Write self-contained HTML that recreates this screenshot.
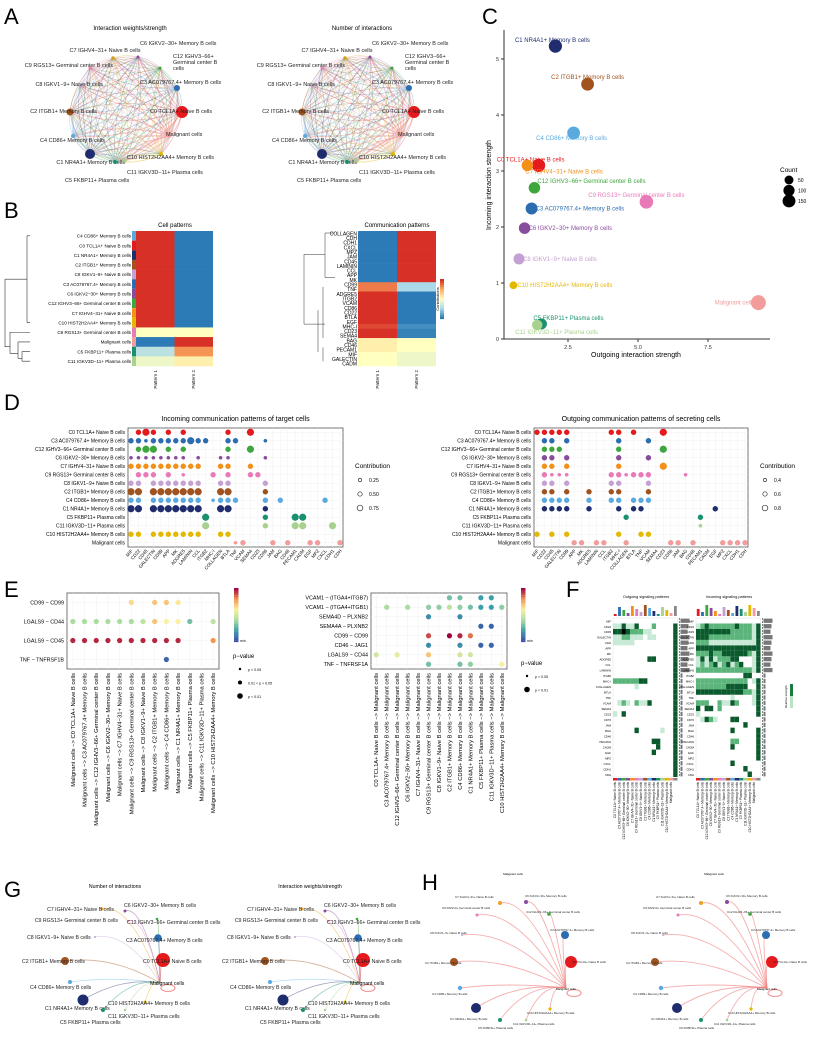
<!DOCTYPE html>
<html><head><meta charset="utf-8">
<style>
html,body{margin:0;padding:0;background:#fff;}
svg{display:block;font-family:"Liberation Sans",Arial,sans-serif;}
</style></head>
<body>
<svg id="fig" width="815" height="1040" viewBox="0 0 815 1040" xmlns="http://www.w3.org/2000/svg">
<rect width="815" height="1040" fill="#fff"/>
<g font-size="22" fill="#000">
<text x="4" y="24">A</text>
<text x="4" y="218">B</text>
<text x="482" y="24">C</text>
<text x="4" y="410">D</text>
<text x="4" y="597">E</text>
<text x="566" y="597">F</text>
<text x="4" y="897">G</text>
<text x="422" y="890">H</text>
</g>
<g id="gA"></g>
<g id="gB"></g>
<g id="gC"></g>
<g id="gD"></g>
<g id="gE"></g>
<g id="gF"></g>
<g id="gG"></g>
<g id="gH"></g>
</svg>
<script>
const NS="http://www.w3.org/2000/svg";
function mk(parent,tag,attrs,txt){const e=document.createElementNS(NS,tag);for(const k in attrs)e.setAttribute(k,attrs[k]);if(txt!==undefined)e.textContent=txt;parent.appendChild(e);return e;}

// ---------- Panel C data ----------
const cellNames=["C1 NR4A1+ Memory B cells","C2 ITGB1+ Memory B cells","C4 CD86+ Memory B cells","C0 TCL1A+ Naive B cells","C7 IGHV4−31+ Naive B cells","C12 IGHV3−66+ Germinal center B cells","C9 RGS13+ Germinal center B cells","C3 AC079767.4+ Memory B cells","C6 IGKV2−30+ Memory B cells","C8 IGKV1−9+ Naive B cells","C10 HIST2H2AA4+ Memory B cells","Malignant cells","C5 FKBP11+ Plasma cells","C11 IGKV3D−11+ Plasma cells"];
const outgoing=[2.05,3.2,2.7,1.45,1.05,1.3,5.3,1.2,0.95,0.75,0.55,9.3,1.55,1.4];
const incoming=[5.23,4.55,3.68,3.1,3.1,2.7,2.45,2.33,1.98,1.43,0.96,0.65,0.27,0.25];
const counts=[120,110,110,120,80,80,130,90,80,70,20,170,70,60];
const cellColors=["#1f2d6e","#a0521f","#5aaae0","#e41a1c","#f39019","#3da63d","#e87ab8","#2c6db2","#874c9c","#c4a1d2","#e3b800","#f29c9c","#1a9070","#a9d18e"];
const xTicksC=[2.5,5.0,7.5];
const yTicksC=[0,1,2,3,4,5];
{
 const g=document.getElementById('gC');
 const X=v=>498+28*v, Y=v=>339-56*v, R=c=>2+Math.sqrt(c)*0.42;
 mk(g,'line',{x1:504,y1:30,x2:504,y2:339,stroke:'#333','stroke-width':1,});
 mk(g,'line',{x1:504,y1:339,x2:770,y2:339,stroke:'#333','stroke-width':1,});
 xTicksC.forEach(t=>{mk(g,'line',{x1:X(t),y1:339,x2:X(t),y2:342,stroke:'#333'});const e=mk(g,'text',{x:X(t),y:349,'font-size':5.5,'text-anchor':'middle',fill:'#333'},t.toFixed(1));});
 yTicksC.forEach(t=>{mk(g,'line',{x1:501,y1:Y(t),x2:504,y2:Y(t),stroke:'#333'});const e=mk(g,'text',{x:499,y:Y(t)+2,'font-size':5.5,'text-anchor':'end',fill:'#333'},t);});
 mk(g,'text',{x:636,y:357,'font-size':7,'text-anchor':'middle',},'Outgoing interaction strength');
 mk(g,'text',{x:0,y:0,'font-size':7,'text-anchor':'middle',transform:'translate(491,185) rotate(-90)',},'Incoming interaction strength');
 const lab=[[-3,-4,'middle'],[0,-5,'middle'],[-2,7,'middle'],[-8,-4,'middle'],[-2,8,'start'],[3,-5,'start'],[-10,-5,'middle'],[4,2,'start'],[4,2,'start'],[4,2,'start'],[4,2,'start'],[-4,2,'end'],[-8,-4,'start'],[-22,9,'start']];
 outgoing.forEach((v,i)=>{
  const c=mk(g,'circle',{cx:X(v),cy:Y(incoming[i]),r:R(counts[i]),fill:cellColors[i]});
  
  const l=lab[i];
  const t=mk(g,'text',{x:X(v)+l[0],y:Y(incoming[i])+l[1],'font-size':6,'text-anchor':l[2],fill:cellColors[i]},cellNames[i]);
  
 });
 mk(g,'text',{x:780,y:172,'font-size':6.5,},'Count');
 [50,100,150].forEach((c,i)=>{const yy=180+i*10.5;mk(g,'circle',{cx:789,cy:yy,r:R(c)*0.9,fill:'#000',});mk(g,'text',{x:798,y:yy+2,'font-size':5,},c);});
}

// ---------- Panel A networks ----------
const netNodes=[
 [-12,-48,"C7 IGHV4−31+ Naive B cells",-8,-6,'middle',"#d4a017",1.8],
 [13,-49,"C6 IGKV2−30+ Memory B cells",2,-12,'start',"#874c9c",1.5],
 [-35,-38,"C9 RGS13+ Germinal center B cells",23,-1,'end',"#e87ab8",1.5],
 [35,-38,"C12 IGHV3−66+",13,-10,'start',"#3da63d",1.5],
 [-45,-20,"C8 IGKV1−9+ Naive B cells",23,0,'end',"#c4a1d2",1.5],
 [52,-18,"C3 AC079767.4+ Memory B cells",-37,-4,'start',"#2c6db2",3],
 [-55,6,"C2 ITGB1+ Memory B cells",27,1,'end',"#a0521f",3.5],
 [57,6,"C0 TCL1A+ Naive B cells",-32,1,'start',"#e41a1c",6],
 [-52,30,"C4 CD86+ Memory B cells",32,6,'end',"#5aaae0",2],
 [45,30,"Malignant cells",-4,0,'start',"#f29c9c",1.5],
 [36,48,"C10 HIST2H2AA4+ Memory B cells",-34,5,'start',"#e3b800",2],
 [-35,48,"C1 NR4A1+ Memory B cells",35,10,'end',"#1f2d6e",5],
 [0,55,"C11 IGKV3D−11+ Plasma cells",2,13,'start',"#a9d18e",1.5],
 [-10,56,"C5 FKBP11+ Plasma cells",-50,20,'start',"#1a9070",2]
];
function circleNet(g,cx,cy,title,name){
 mk(g,'text',{x:cx+5,y:cy-76,'font-size':6,'text-anchor':'middle',},title);
 const P=netNodes.map(n=>[cx+n[0],cy+n[1]]);
 for(let i=0;i<P.length;i++)for(let j=0;j<P.length;j++){if(i===j)continue;
  const [x1,y1]=P[i],[x2,y2]=P[j];const mx=(x1+x2)/2+(y2-y1)*0.15,my=(y1+y2)/2-(x2-x1)*0.15;
  const col=(j===9||i===9)?'#f29c9c':netNodes[i][6];
  mk(g,'path',{d:`M${x1},${y1} Q${mx},${my} ${x2},${y2}`,fill:'none',stroke:col,'stroke-opacity':j===9||i===9?0.5:0.35,'stroke-width':j===9?1.3:0.6});}
 P.forEach((p,i)=>{const n=netNodes[i];
  const c=mk(g,'circle',{cx:p[0],cy:p[1],r:n[7],fill:n[6]});
  const t=mk(g,'text',{x:p[0]+n[3],y:p[1]+n[4],'font-size':5.5,'text-anchor':n[5],fill:'#222'},n[2]);
  if(i===3){mk(g,'text',{x:p[0]+n[3],y:p[1]+n[4]+6,'font-size':5.5,fill:'#222'},'Germinal center B');mk(g,'text',{x:p[0]+n[3],y:p[1]+n[4]+12,'font-size':5.5,fill:'#222'},'cells');}
 });
}
circleNet(document.getElementById('gA'),125,106,'Interaction weights/strength','a-net-weights');
circleNet(document.getElementById('gA'),357,106,'Number of interactions','a-net-count');

// ---------- Panel G / H networks ----------
const starLabels=["C7 IGHV4−31+ Naive B cells","C6 IGKV2−30+ Memory B cells","C9 RGS13+ Germinal center B cells","C12 IGHV3−66+ Germinal center B cells","C8 IGKV1−9+ Naive B cells","C3 AC079767.4+ Memory B cells","C2 ITGB1+ Memory B cells","C0 TCL1A+ Naive B cells","C4 CD86+ Memory B cells","C1 NR4A1+ Memory B cells","C10 HIST2H2AA4+ Memory B cells","C11 IGKV3D−11+ Plasma cells","C5 FKBP11+ Plasma cells"];
const starColors=['#f0a020','#874c9c','#e87ab8','#3da63d','#c4a1d2','#2c6db2','#a0521f','#e41a1c','#5aaae0','#1f2d6e','#e3b800','#a9d18e','#1a9070'];
const gLayout=[[102,909,1.5,114,911,'end'],[125,911,1.5,124,907,'start'],[128,921,1,118,922,'end'],[157,919,1.3,127,924,'start'],[95,937,1,27,939,'start'],[158,938,3.8,126,942,'start'],[65,961,4,22,963,'start'],[163,960,7,143,963,'start'],[70,982,2,30,989,'start'],[83,1000,5.5,45,1010,'start'],[145,1002,1.5,108,1005,'start'],[125,1010,1.2,108,1018,'start'],[103,1010,2,60,1024,'start']];
const hLayout=[[500,903,2,455,898,'start'],[526,902,2,525,897,'start'],[477,915,1.5,442,909,'start'],[549,914,1.8,526,913,'start'],[462,935,1,430,934,'start'],[565,935,4,550,931,'start'],[454,962,4,425,964,'start'],[571,962,6,572,963,'start'],[460,988,2.2,432,995,'start'],[476,1008,5,450,1020,'start'],[550,1009,1.6,527,1014,'start'],[526,1020,1.3,513,1025,'start'],[500,1020,2,478,1029,'start']];
function starNet(g,L,tx,ty,dx,title,titleX,titleY,name,fs,pink){
 mk(g,'text',{x:titleX+dx,y:titleY,'font-size':fs,'text-anchor':'middle',},title);
 const T=tx+dx;
 L.forEach((n,i)=>{const x=n[0]+dx,y=n[1];
  mk(g,'path',{d:`M${x},${y} Q${(x+T)/2+(pink?-5:0)},${Math.min(y,ty)-6} ${T},${ty}`,fill:'none',stroke:pink?'#f07a7a':starColors[i],'stroke-opacity':pink?0.6:0.45,'stroke-width':pink?0.9:0.8});
 });
 mk(g,'ellipse',{cx:T+8,cy:ty+5,rx:7,ry:3.5,fill:'none',stroke:'#f29c9c','stroke-width':1.2});
 L.forEach((n,i)=>{const x=n[0]+dx,y=n[1];
  const c=mk(g,'circle',{cx:x,cy:y,r:n[2],fill:starColors[i]});
  const t=mk(g,'text',{x:n[3]+dx,y:n[4],'font-size':fs,'text-anchor':n[5],fill:'#222'},starLabels[i]);
 });
 mk(g,'text',{x:T-10,y:ty+2,'font-size':fs,},'Malignant cells');
}
starNet(document.getElementById('gG'),gLayout,160,983,0,'Number of interactions',115,888,'g-net-count',5.2,false);
starNet(document.getElementById('gG'),gLayout,160,983,200,'Interaction weights/strength',110,888,'g-net-weights',5.2,false);
starNet(document.getElementById('gH'),hLayout,566,988,0,'Malignant cells',513,875,'h-net-left',3,true);
starNet(document.getElementById('gH'),hLayout,566,988,201,'Malignant cells',513,875,'h-net-right',3,true);

// ---------- Panel B heatmaps ----------
const cellRowsB=["C4 CD86+ Memory B cells","C0 TCL1A+ Naive B cells","C1 NR4A1+ Memory B cells","C2 ITGB1+ Memory B cells","C8 IGKV1−9+ Naive B cells","C3 AC079767.4+ Memory B cells","C6 IGKV2−30+ Memory B cells","C12 IGHV3−66+ Germinal center B cells","C7 IGHV4−31+ Naive B cells","C10 HIST2H2AA4+ Memory B cells","C9 RGS13+ Germinal center B cells","Malignant cells","C5 FKBP11+ Plasma cells","C11 IGKV3D−11+ Plasma cells"];
const cellStripB=["#5aaae0","#e41a1c","#1f2d6e","#a0521f","#c4a1d2","#2c6db2","#874c9c","#3da63d","#f39019","#e3b800","#e87ab8","#f29c9c","#1a9070","#a9d18e"];
const cellP1=[1,1,1,1,1,1,1,1,1,1,0.5,0,0.3,0.45];
const cellP2=[0,0,0,0,0,0,0,0,0,0,0.5,1,0.8,0.55];
const commRowsB=["COLLAGEN","CDH","CDH1","CXCL","MPZ","JAM","CD45","LAMININ","CCL","APP","MK","CD99","TNF","ADGRE5","ITGB2","VCAM","CD86","CD22","BTLA","EGF","MHC-I","CD23","SEMA4","BAG","CD46","PECAM1","MIF","GALECTIN","CADM"];
const commP1=[0,0,0,0,0,0,0,0,0,0,0,0.85,0.85,1,1,1,1,1,1,1,0.95,1,1,0.55,0.55,0.55,0.5,0.5,0.5];
const commP2=[1,1,1,1,1,1,1,1,1,1,1,0.25,0.25,0,0,0,0,0,0,0,0.05,0.02,0.02,0.5,0.5,0.5,0.45,0.45,0.45];
function heat(v){const s=[[44,123,182],[171,217,233],[255,255,191],[253,174,97],[215,48,39]];const t=Math.max(0,Math.min(1,v))*4,i=Math.min(3,Math.floor(t)),f=t-i;const a=s[i],b=s[i+1];return `rgb(${a.map((c,k)=>Math.round(c+(b[k]-c)*f)).join(',')})`;}
{
 const g=document.getElementById('gB');
 const top=231,bot=366;
 mk(g,'text',{x:175,y:227,'font-size':6,'text-anchor':'middle',},'Cell patterns');
 let h=(bot-top)/cellRowsB.length;
 cellRowsB.forEach((r,i)=>{const y=top+i*h;
  mk(g,'text',{x:131,y:y+h/2+1.8,'font-size':4.6,'text-anchor':'end',},r);
  mk(g,'rect',{x:132,y:y,width:4,height:h,fill:cellStripB[i]});
  const a=mk(g,'rect',{x:136,y:y,width:38.5,height:h+0.3,fill:heat(cellP1[i])});
  const b=mk(g,'rect',{x:174.5,y:y,width:38.5,height:h+0.3,fill:heat(cellP2[i])});
 });
 const yy=k=>top+h*k;
 mk(g,'path',{d:`M27,${yy(0.5)}V${yy(9.5)} M27,${yy(0.5)}H30 M27,${yy(9.5)}H30 M5,${yy(5)}H27 M5,${yy(5)}V${yy(12)}H10 M10,${yy(10.5)}V${yy(12.7)} M10,${yy(10.5)}H30 M10,${yy(12.7)}H18 M18,${yy(11.5)}V${yy(13.2)} M18,${yy(11.5)}H30 M18,${yy(13.2)}H22 M22,${yy(12.5)}V${yy(13.5)} M22,${yy(12.5)}H30 M22,${yy(13.5)}H30`,stroke:'#333',fill:'none','stroke-width':0.6});
 ['Pattern 1','Pattern 2'].forEach((p,i)=>mk(g,'text',{x:0,y:0,'font-size':4.6,'text-anchor':'end',transform:`translate(${157+i*38},370) rotate(-90)`,},p));
 mk(g,'text',{x:397,y:227,'font-size':6,'text-anchor':'middle',},'Communication patterns');
 h=(bot-top)/commRowsB.length;
 commRowsB.forEach((r,i)=>{const y=top+i*h;
  mk(g,'text',{x:357,y:y+h/2+2,'font-size':5,'text-anchor':'end',},r);
  const a=mk(g,'rect',{x:358,y:y,width:39,height:h+0.3,fill:heat(commP1[i])});
  const b=mk(g,'rect',{x:397,y:y,width:39,height:h+0.3,fill:heat(commP2[i])});
 });
 mk(g,'path',{d:`M304,${top+h*5}V${top+h*20}H325 M304,${top+h*5}H325 M325,${top+2}V${top+h*10} M325,${top+2}H335 M325,${top+h*10}H335 M323,${top+h*12}V${top+h*23} M323,${top+h*25}V${top+h*28} M318,${top+h*17}V${top+h*26}`,stroke:'#333',fill:'none','stroke-width':0.5});
 ['Pattern 1','Pattern 2'].forEach((p,i)=>mk(g,'text',{x:0,y:0,'font-size':4.6,'text-anchor':'end',transform:`translate(${379+i*39},370) rotate(-90)`,},p));
 for(let k=0;k<20;k++)mk(g,'rect',{x:440,y:279+k*2,width:4,height:2.1,fill:heat(1-k/19)});
 mk(g,'text',{x:0,y:0,'font-size':4,'text-anchor':'middle',transform:'translate(439,299) rotate(-90)',},'Contributions');
}

// ---------- Panel D dot plots ----------
const dRows=["C0 TCL1A+ Naive B cells","C3 AC079767.4+ Memory B cells","C12 IGHV3−66+ Germinal center B cells","C6 IGKV2−30+ Memory B cells","C7 IGHV4−31+ Naive B cells","C9 RGS13+ Germinal center B cells","C8 IGKV1−9+ Naive B cells","C2 ITGB1+ Memory B cells","C4 CD86+ Memory B cells","C1 NR4A1+ Memory B cells","C5 FKBP11+ Plasma cells","C11 IGKV3D−11+ Plasma cells","C10 HIST2H2AA4+ Memory B cells","Malignant cells"];
const dRowColors=["#e41a1c","#2c6db2","#3da63d","#874c9c","#f39019","#e87ab8","#c4a1d2","#a0521f","#5aaae0","#1f2d6e","#1a9070","#a9d18e","#e3b800","#f29c9c"];
const dCols=["MIF","CD22","CD45","GALECTIN","CD99","APP","MK","ADGRE5","LAMININ","CCL","ITGB2","MHC-I","COLLAGEN","BTLA","TNF","VCAM","SEMA4","CD23","CD86","JAM","BAG","CD46","PECAM1","CADM","EGF","MPZ","CXCL","CDH1","CDH"];
const dIncoming=[
"02320202000002003000000000000",
"22122222322002200010000000000",
"02330202000002003000000000000",
"11111111010011000010000000000",
"22222222220022002000000000000",
"02220201000202002200000000000",
"22022222220022000020000000000",
"33033333330033000020000000000",
"22022222220122200020200000200",
"33033333330033000020000000000",
"00000000003000000020003300000",
"00000000003000000020003300030",
"22022222220022000000000000000",
"00000000000000120002020022002"];
const dOutgoing=[
"22222000002202000300000000000",
"02202000000200020000000000000",
"02220000000200000300000000000",
"02202000000200020000000000000",
"02202000000200000300000000000",
"02111000002212220000100000000",
"02202000002200020000000000000",
"02202002002200020000000000000",
"02222002002202220000000000000",
"02222002000202200000000020000",
"00000000000020000000002000000",
"00000000000000000000001000000",
"20202000000200220000000000000",
"00000220220020000022020002222"];
function dotPlot(g,x0,x1,title,mat,legVals,name){
 const top=428,bot=547,n=dRows.length,rh=(bot-top)/n,cw=(x1-x0-6)/(dCols.length-1);
 mk(g,'text',{x:(x0+x1)/2,y:421,'font-size':7,'text-anchor':'middle',},title);
 mk(g,'rect',{x:x0,y:top,width:x1-x0,height:bot-top,fill:'#fff',stroke:'#555','stroke-width':0.8});
 dCols.forEach((c,j)=>{const x=x0+3+j*cw;mk(g,'line',{x1:x,y1:top,x2:x,y2:bot,stroke:'#eee','stroke-width':0.4});
  const t=mk(g,'text',{x:0,y:0,'font-size':4.6,'text-anchor':'end',transform:`translate(${x+2},${bot+4}) rotate(-50)`},c);});
 dRows.forEach((r,i)=>{const y=top+rh*(i+0.5);
  mk(g,'line',{x1:x0,y1:y,x2:x1,y2:y,stroke:'#eee','stroke-width':0.4});
  const t=mk(g,'text',{x:x0-3,y:y+1.8,'font-size':5,'text-anchor':'end'},r);
  mat[i].split('').forEach((d,j)=>{const v=+d;if(!v)return;
   const c=mk(g,'circle',{cx:x0+3+j*cw,cy:y,r:0.9+v*0.9,fill:dRowColors[i]});});
 });
 mk(g,'text',{x:x1+12,y:468,'font-size':6.5,},'Contribution');
 legVals.forEach((v,i)=>{mk(g,'circle',{cx:x1+17,cy:480+i*14,r:1.6+i*0.6,fill:'none',stroke:'#333','stroke-width':0.7});mk(g,'text',{x:x1+26,y:482+i*14,'font-size':5,},v);});
}
dotPlot(document.getElementById('gD'),128,343,'Incoming communication patterns of target cells',dIncoming,['0.25','0.50','0.75'],'d-incoming');
dotPlot(document.getElementById('gD'),534,748,'Outgoing communication patterns of secreting cells',dOutgoing,['0.4','0.6','0.8'],'d-outgoing');

// ---------- Panel E ----------
const eLeftRows=["CD99 − CD99","LGALS9 − CD44","LGALS9 − CD45","TNF − TNFRSF1B"];
const eLeftCols=["Malignant cells −> C0 TCL1A+ Naive B cells","Malignant cells −> C3 AC079767.4+ Memory B cells","Malignant cells −> C12 IGHV3−66+ Germinal center B cells","Malignant cells −> C6 IGKV2−30+ Memory B cells","Malignant cells −> C7 IGHV4−31+ Naive B cells","Malignant cells −> C9 RGS13+ Germinal center B cells","Malignant cells −> C8 IGKV1−9+ Naive B cells","Malignant cells −> C2 ITGB1+ Memory B cells","Malignant cells −> C4 CD86+ Memory B cells","Malignant cells −> C1 NR4A1+ Memory B cells","Malignant cells −> C5 FKBP11+ Plasma cells","Malignant cells −> C11 IGKV3D−11+ Plasma cells","Malignant cells −> C10 HIST2H2AA4+ Memory B cells"];
const eLeftVals=[
 [-1,-1,-1,-1,-1,0.65,-1,0.7,0.7,0.62,-1,-1,-1],
 [0.4,0.4,0.4,0.4,0.4,0.4,0.45,0.7,0.6,0.6,0.3,-1,0.45],
 [0.95,0.95,0.95,0.95,0.95,0.95,0.95,0.95,0.95,0.95,-1,-1,0.8],
 [-1,-1,-1,-1,-1,-1,-1,-1,0.05,-1,-1,-1,-1]];
const eRightRows=["VCAM1 − (ITGA4+ITGB7)","VCAM1 − (ITGA4+ITGB1)","SEMA4D − PLXNB2","SEMA4A − PLXNB2","CD99 − CD99","CD46 − JAG1","LGALS9 − CD44","TNF − TNFRSF1A"];
const eRightCols=["C0 TCL1A+ Naive B cells −> Malignant cells","C3 AC079767.4+ Memory B cells −> Malignant cells","C12 IGHV3−66+ Germinal center B cells −> Malignant cells","C6 IGKV2−30+ Memory B cells −> Malignant cells","C7 IGHV4−31+ Naive B cells −> Malignant cells","C9 RGS13+ Germinal center B cells −> Malignant cells","C8 IGKV1−9+ Naive B cells −> Malignant cells","C2 ITGB1+ Memory B cells −> Malignant cells","C4 CD86+ Memory B cells −> Malignant cells","C1 NR4A1+ Memory B cells −> Malignant cells","C5 FKBP11+ Plasma cells −> Malignant cells","C11 IGKV3D−11+ Plasma cells −> Malignant cells","C10 HIST2H2AA4+ Memory B cells −> Malignant cells"];
const eRightVals=[
 [-1,-1,-1,-1,-1,-1,-1,0.3,0.3,-1,0.2,0.2,-1],
 [-1,0.4,-1,0.4,-1,0.35,0.35,0.45,0.35,0.3,0.2,0.2,0.35],
 [-1,-1,-1,-1,-1,0.15,-1,-1,0.15,-1,-1,-1,-1],
 [-1,-1,-1,-1,-1,-1,-1,-1,-1,-1,0.05,0.05,-1],
 [-1,-1,-1,-1,-1,0.9,-1,1,0.95,0.85,-1,-1,-1],
 [-1,-1,-1,-1,-1,0.15,-1,-1,0.15,-1,0.05,0.05,-1],
 [0.5,-1,0.55,-1,-1,0.7,-1,-1,0.5,0.5,-1,-1,-1],
 [-1,-1,-1,-1,-1,0.3,-1,-1,0.3,0.35,-1,-1,0.6]];
function spec(v){const s=[[60,80,170],[60,160,170],[170,220,160],[250,240,160],[245,150,80],[160,0,60]];const t=v*5,i=Math.min(4,Math.floor(t)),f=t-i;const a=s[i],b=s[i+1];return `rgb(${a.map((c,k)=>Math.round(c+(b[k]-c)*f)).join(',')})`;}
function ePlot(g,x0,x1,top,bot,rows,cols,vals,name,lx){
 mk(g,'rect',{x:x0,y:top,width:x1-x0,height:bot-top,fill:'#fff',stroke:'#555','stroke-width':0.8});
 const rh=(bot-top)/rows.length,cw=(x1-x0)/cols.length;
 cols.forEach((c,j)=>{const x=x0+cw*(j+0.5);mk(g,'line',{x1:x,y1:top,x2:x,y2:bot,stroke:'#eee','stroke-width':0.4});
  const t=mk(g,'text',{x:0,y:0,'font-size':5.8,'text-anchor':'end',transform:`translate(${x+2},${bot+4}) rotate(-90)`},c);});
 rows.forEach((r,i)=>{const y=top+rh*(i+0.5);mk(g,'line',{x1:x0,y1:y,x2:x1,y2:y,stroke:'#eee','stroke-width':0.4});
  const t=mk(g,'text',{x:x0-3,y:y+1.8,'font-size':5.4,'text-anchor':'end'},r);
  vals[i].forEach((v,j)=>{if(v<0)return;const c=mk(g,'circle',{cx:x0+cw*(j+0.5),cy:y,r:2.6,fill:spec(v)});});});
 for(let k=0;k<30;k++)mk(g,'rect',{x:lx,y:588+k*1.8,width:4.5,height:1.9,fill:spec(1-k/29)});
 mk(g,'text',{x:lx+6,y:642,'font-size':3.5,},'min');
}
{
 const g=document.getElementById('gE');
 ePlot(g,67,219,593,669,eLeftRows,eLeftCols,eLeftVals,'e-left',234);
 mk(g,'text',{x:233,y:658,'font-size':6,},'p−value');
 [['p > 0.05',1.2],['0.01 < p < 0.05',2],['p < 0.01',2.8]].forEach((p,i)=>{mk(g,'circle',{cx:240,cy:669+i*13.5,r:p[1],fill:'#000'});mk(g,'text',{x:248,y:671+i*13.5,'font-size':3.6,},p[0]);});
 ePlot(g,371,507,593,669,eRightRows,eRightCols,eRightVals,'e-right',521);
 mk(g,'text',{x:521,y:665,'font-size':6,},'p−value');
 [['p > 0.05',1.2],['p < 0.01',2.8]].forEach((p,i)=>{mk(g,'circle',{cx:527,cy:676+i*13.5,r:p[1],fill:'#000'});mk(g,'text',{x:535,y:678+i*13.5,'font-size':3.6,},p[0]);});
}

// ---------- Panel F ----------
const fRows=["MIF","CD22","CD45","GALECTIN","CDH","APP","MK","ADGRE5","CCL","LAMININ","ITGB2","MHC-I","COLLAGEN","BTLA","TNF","VCAM","SEMA4","CD23","CD70","JAM","BAG","CD46","PECAM1","CADM","EGF","MPZ","CXCL","CDH1","CDH"];
const fOut=[
"000000000000000","113113000200003","334322211000003","112211101100003","111110000000003",
"000000000000003","000000000000003","000000003300003","000000000000003","000000000000003",
"000000000000003","222222330000003","000001000000003","000000000000003","000000000000003",
"012102113000003","000000000000003","103000000000003","000000000000003","000000000000003",
"000003000001003","000000000000003","000000000330003","000000000030003","000000000300003",
"000000000000003","000000000000003","000000000000003","000000000000003"];
const fIn=[
"000000000000000","123222222322213","333333332222213","333222222222213","222111111111113",
"333333333333333","222322333333213","131312223300013","121231231230013","222222222222213",
"000000000003300","222222222222013","222222233333003","333333333332213","000000001000013",
"222002113200013","303302000000003","100000000000003","013210003300000","000000000003000",
"000000003000003","000000000000003","000000002200003","000000003000003","000000000000003",
"000000000000003","000000003000000","000000000003000","000000000000300"];
const fGreens=["#ffffff","#c7e9d6","#5bb57a","#0b5a2e"];
{
 const g=document.getElementById('gF');
 const top=618,bot=777,rh=(bot-top)/fRows.length,cw=4.3;
 [['Outgoing signaling patterns',613],['Incoming signaling patterns',696]].forEach((t,k)=>{
  mk(g,'text',{x:t[1]+33,y:598,'font-size':3.8,'text-anchor':'middle',},t[0]);
  const mat=k?fIn:fOut,x0=t[1];
  mk(g,'rect',{x:x0,y:top,width:cw*15,height:bot-top,fill:'#fff',stroke:'#ccc','stroke-width':0.3});
  mat.forEach((row,i)=>row.split('').forEach((d,j)=>{if(d==='0')return;const r=mk(g,'rect',{x:x0+j*cw,y:top+i*rh,width:cw,height:rh,fill:fGreens[+d]});}));
  dRowColors.concat(['#888']).slice(0,15).forEach((c,j)=>{mk(g,'rect',{x:x0+j*cw,y:778,width:cw,height:2.5,fill:c});
   const hh=2+((j*7+k*5)%10);const b=mk(g,'rect',{x:x0+j*cw+0.8,y:616-hh,width:2.8,height:hh,fill:c});});
  fRows.forEach((r,i)=>{if(i<10){const b=mk(g,'rect',{x:x0+cw*15+3,y:top+i*rh+0.6,width:9-(i%3),height:rh-1.2,fill:'#777'});}
   else mk(g,'rect',{x:x0+cw*15+3,y:top+i*rh+0.6,width:2,height:rh-1.2,fill:'#777'});});
  mk(g,'line',{x1:x0+cw*15+2,y1:top,x2:x0+cw*15+2,y2:bot,stroke:'#333','stroke-width':0.6,'stroke-dasharray':'2,1'});
  fRows.forEach((r,i)=>mk(g,'text',{x:x0-2,y:top+i*rh+rh-1.2,'font-size':2.8,'text-anchor':'end',},r));
  dRows.forEach((r,j)=>mk(g,'text',{x:0,y:0,'font-size':3.2,'text-anchor':'end',transform:`translate(${x0+j*cw+3.2},782) rotate(-90)`,},r));
 });
 for(let k=0;k<12;k++)mk(g,'rect',{x:790,y:684+k*2,width:3,height:2.1,fill:k<6?'#1a7a40':'#b9e3c6'});
 mk(g,'text',{x:0,y:0,'font-size':3,transform:'translate(787,708) rotate(-90)',},'Relative strength');
}
</script>
</body></html>
